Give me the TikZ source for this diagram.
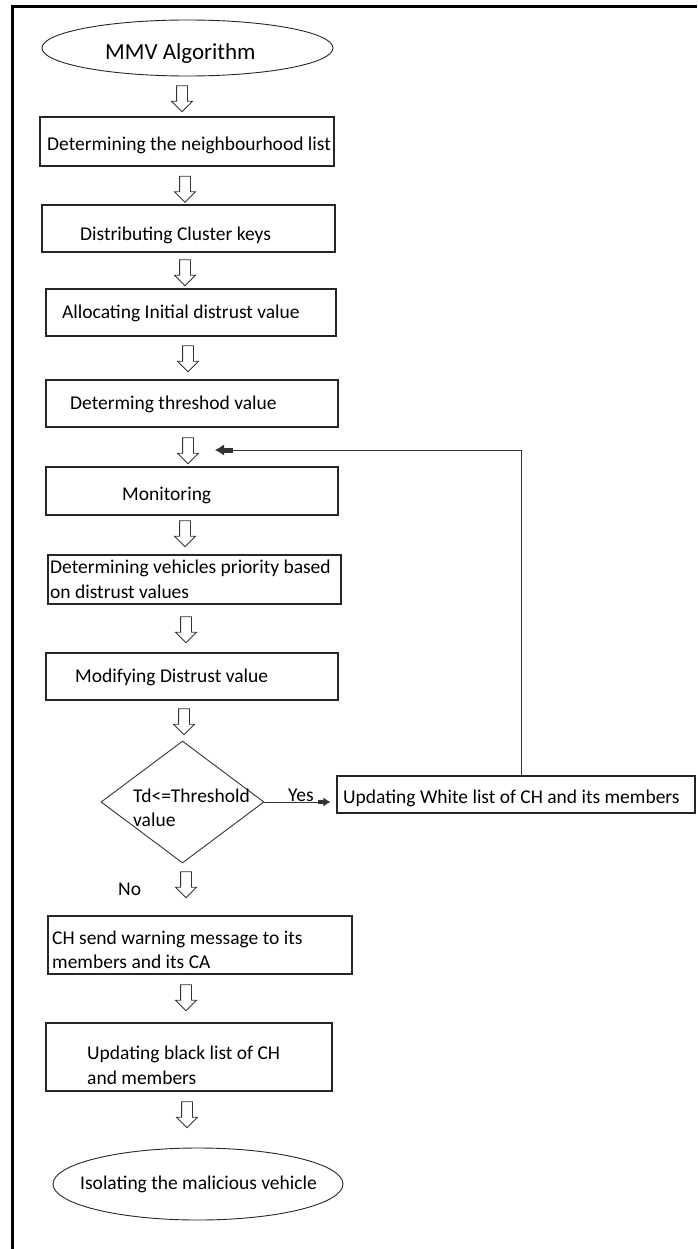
\documentclass[tikz,border=0pt]{standalone}
\usepackage{fontspec}
\setmainfont{Carlito}
\usetikzlibrary{shapes.geometric,shapes.arrows,arrows.meta}
\begin{document}
\begin{tikzpicture}[x=1pt,y=-1pt,
  box/.style={draw=black!85,line width=1.2pt,rectangle,inner sep=0pt},
  txt/.style={inner sep=0pt,font=\fontsize{19.5}{24.5}\selectfont,text=black,align=left,anchor=west},
  blk/.style={draw=black!80,line width=0.8pt,single arrow,shape border rotate=270,minimum height=26pt,single arrow head extend=5pt,single arrow head indent=0pt,inner sep=0pt},
  oval/.style={draw=black!85,ellipse,line width=0.9pt,inner sep=0pt},
  dia/.style={draw=black!80,diamond,line width=0.9pt,inner sep=0pt},
  yesarr/.style={draw=black!80,line width=0.9pt,-{Rectangle[length=5pt,width=4.5pt,sep=0pt]Latex[length=7pt,width=9pt]},shorten >=6pt},
  fbarr/.style={draw=black!80,line width=0.9pt,-{Rectangle[length=9pt,width=5pt,sep=0pt]Latex[length=9pt,width=11pt]}}]
\useasboundingbox (0,0) rectangle (697,1249);
% frame
\draw[line width=3pt] (12,1249) -- (12,7) -- (697,7);
% start
\node[oval,minimum width=291pt,minimum height=56pt] (e1) at (187.5,48) {};
\node[txt,font=\fontsize{23}{27}\selectfont] (te1) at (105,53) {MMV Algorithm};
% boxes
\node[box,minimum width=294pt,minimum height=49pt] (b1) at (187,141.5) {};
\node[txt] (t1) at (47,145) {Determining the neighbourhood list};
\node[box,minimum width=293pt,minimum height=47pt] (b2) at (188.5,228.5) {};
\node[txt] (t2) at (80,235) {Distributing Cluster keys};
\node[box,minimum width=290pt,minimum height=47pt] (b3) at (191,312.5) {};
\node[txt] (t3) at (62,313) {Allocating Initial distrust value};
\node[box,minimum width=292pt,minimum height=47pt] (b4) at (192,403.5) {};
\node[txt] (t4) at (70,404) {Determing threshod value};
\node[box,minimum width=292pt,minimum height=48pt] (b5) at (192,491) {};
\node[txt] (t5) at (122,495) {Monitoring};
\node[box,minimum width=293pt,minimum height=49pt] (b6) at (194.5,579.5) {};
\node[txt] (t6) at (50,579.5) {Determining vehicles priority based\\on distrust values};
\node[box,minimum width=292pt,minimum height=47pt] (b7) at (192,676.5) {};
\node[txt] (t7) at (75,677) {Modifying Distrust value};
% decision
\node[dia,minimum width=163pt,minimum height=122pt] (d) at (182.5,802) {};
\node[txt] (td) at (133,808) {Td<=Threshold\\value};
\node[box,minimum width=358pt,minimum height=37pt] (wl) at (516,794.5) {};
\node[txt] (twl) at (343,798) {Updating White list of CH and its members};
\node[txt] (yes) at (288,795) {Yes};
\node[txt] (no) at (118,889) {No};
\node[box,minimum width=304pt,minimum height=58pt] (b8) at (200,945) {};
\node[txt] (t8) at (52,950) {CH send warning message to its\\members and its CA};
\node[box,minimum width=286pt,minimum height=68pt] (b9) at (189,1057) {};
\node[txt] (t9) at (87,1065.5) {Updating black list of CH\\and members};
% end
\node[oval,minimum width=290pt,minimum height=72pt] (e2) at (198,1184) {};
\node[txt] (te2) at (80,1184) {Isolating the malicious vehicle};
% block arrows
\foreach \n/\x/\y in {a1/182/96,a2/185/186.5,a3/185/270,a4/188/356,a5/188/448,a6/185/531,a7/186/627,a8/184/719,a9/186/882,a10/186/995,a11/187/1112}
  \node[blk] (\n) at (\x,\y) {\rule{0pt}{10pt}\hspace*{10pt}};
% connectors
\draw[yesarr] (d.east) -- (d.east -| wl.west);
\coordinate (fbtop) at (521,450);
\coordinate (fbend) at (215,450);
\draw[fbarr] (wl.north -| fbtop) -- (fbtop) -- (fbend);
\end{tikzpicture}
\end{document}
